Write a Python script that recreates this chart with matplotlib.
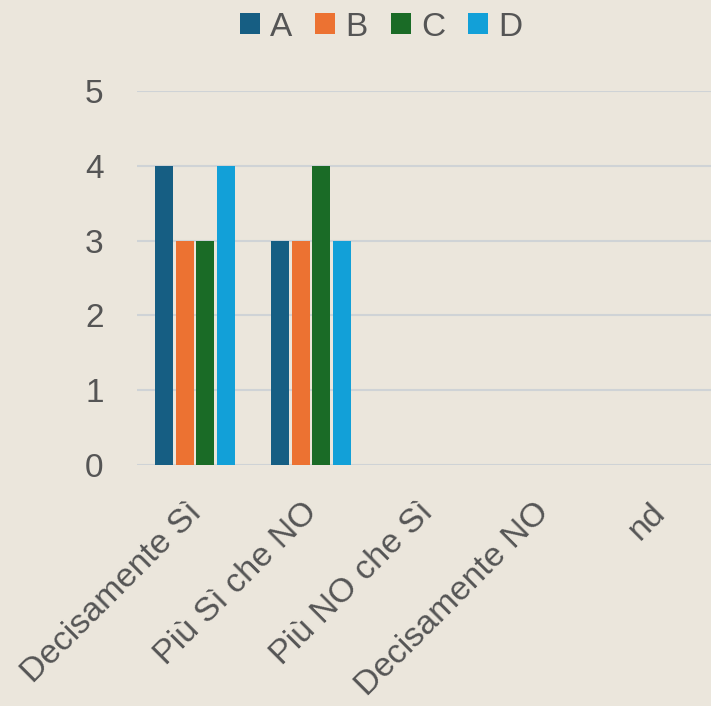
import numpy as np
import matplotlib.pyplot as plt
from matplotlib.transforms import ScaledTranslation

categories = ['Decisamente Sì', 'Più Sì che NO', 'Più NO che Sì', 'Decisamente NO', 'nd']
series = ['A', 'B', 'C', 'D']
values_a = [4, 3, 0, 0, 0]
values_b = [3, 3, 0, 0, 0]
values_c = [3, 4, 0, 0, 0]
values_d = [4, 3, 0, 0, 0]
colors = ['#165e83', '#ec7232', '#1a6b26', '#12a0d8']

bg = '#ebe6dc'
ink = '#555555'
plt.rcParams['font.family'] = ['Liberation Sans', 'DejaVu Sans']

fig = plt.figure(figsize=(7.11, 7.06), dpi=100, facecolor=bg)
ax = fig.add_axes([137 / 711, 1 - 465 / 706, 580 / 711, (465 - 91) / 706])
ax.set_facecolor(bg)

x = np.arange(len(categories))
width = 0.155
pitch = 0.18
all_vals = [values_a, values_b, values_c, values_d]
for i, (name, vals, col) in enumerate(zip(series, all_vals, colors)):
    ax.bar(x + (i - 1.5) * pitch, vals, width, color=col, label=name, zorder=3)

ax.set_xlim(-0.5, len(categories) - 0.5)
ax.set_ylim(0, 5)
ax.set_yticks(range(6))
ax.yaxis.grid(True, color='#cfd3d6', linewidth=1.5, zorder=0)
for s in ax.spines.values():
    s.set_visible(False)
ax.tick_params(axis='y', length=0, pad=24, labelsize=24, labelcolor=ink)
ax.tick_params(axis='x', length=0, pad=23, labelsize=24.5, labelcolor=ink)
ax.set_xticks(x)
ax.set_xticklabels(categories, rotation=45, ha='right', va='top', rotation_mode='anchor')
shift = ScaledTranslation(-0.09, 0, fig.dpi_scale_trans)
for lbl in ax.get_xticklabels():
    lbl.set_transform(lbl.get_transform() + shift)

fig.legend(loc='center', bbox_to_anchor=(381 / 711, 1 - 27 / 706), ncol=4, frameon=False,
           fontsize=24, labelcolor=ink, handlelength=0.6, handleheight=0.6,
           handletextpad=0.3, columnspacing=0.7)

fig.savefig('out.png', dpi=100, facecolor=bg)
